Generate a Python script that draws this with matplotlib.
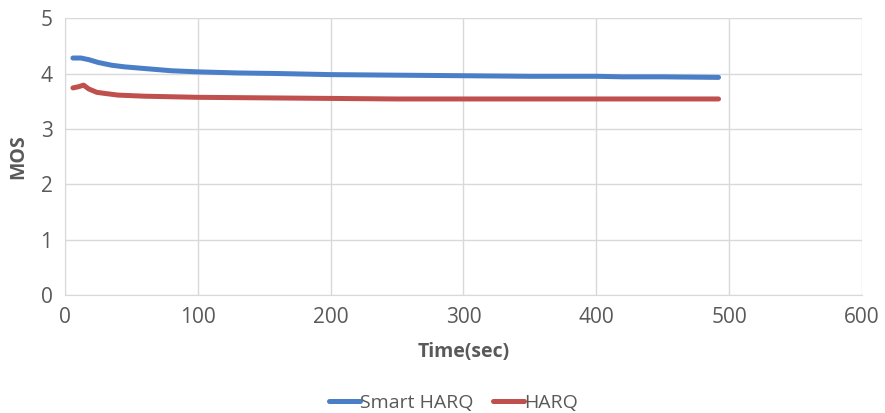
import matplotlib
matplotlib.use("Agg")
import matplotlib.pyplot as plt

time_smart = [6, 12, 18, 25, 35, 45, 60, 80, 100, 130, 160, 200, 250, 300, 350, 400, 420, 450, 492]
mos_smart = [4.28, 4.28, 4.25, 4.20, 4.15, 4.12, 4.09, 4.05, 4.03, 4.01, 4.00, 3.98, 3.97, 3.96, 3.95, 3.95, 3.94, 3.94, 3.93]

time_harq = [6, 10, 14, 18, 24, 30, 40, 60, 80, 100, 150, 200, 250, 300, 400, 492]
mos_harq = [3.74, 3.76, 3.79, 3.72, 3.66, 3.64, 3.61, 3.59, 3.58, 3.57, 3.56, 3.55, 3.54, 3.54, 3.54, 3.54]

x_ticks = [0, 100, 200, 300, 400, 500, 600]
y_ticks = [0, 1, 2, 3, 4, 5]

plt.rcParams['font.family'] = ['Open Sans', 'DejaVu Sans']
fig = plt.figure(figsize=(8.85, 4.13), dpi=100)
ax = fig.add_axes([0.0734, 0.286, 0.9006, 0.670])

gray = '#595959'
ax.plot(time_smart, mos_smart, color='#4A7EC6', lw=3.6, label='Smart HARQ', solid_capstyle='round')
ax.plot(time_harq, mos_harq, color='#C0504D', lw=3.6, label='HARQ', solid_capstyle='round')

ax.set_xlim(0, 600)
ax.set_ylim(0, 5)
ax.set_xticks(x_ticks)
ax.set_yticks(y_ticks)
ax.grid(True, color='#D9D9D9', lw=1)
ax.set_axisbelow(True)
for s in ['top', 'right']:
    ax.spines[s].set_visible(False)
for s in ['left', 'bottom']:
    ax.spines[s].set_color('#D9D9D9')
ax.tick_params(length=0, labelsize=15, colors=gray, pad=9)
ax.set_xlabel('Time(sec)', fontsize=14, fontweight='bold', color=gray, labelpad=10)
ax.set_ylabel('MOS', fontsize=14, fontweight='bold', color=gray, labelpad=9)
ax.legend(loc='lower center', bbox_to_anchor=(0.487, -0.43), ncol=2, frameon=False,
          fontsize=14, labelcolor=gray, handlelength=1.6, handletextpad=0.0, columnspacing=1.0,
          borderaxespad=0, borderpad=0.1)
fig.savefig('out.png', dpi=100)
